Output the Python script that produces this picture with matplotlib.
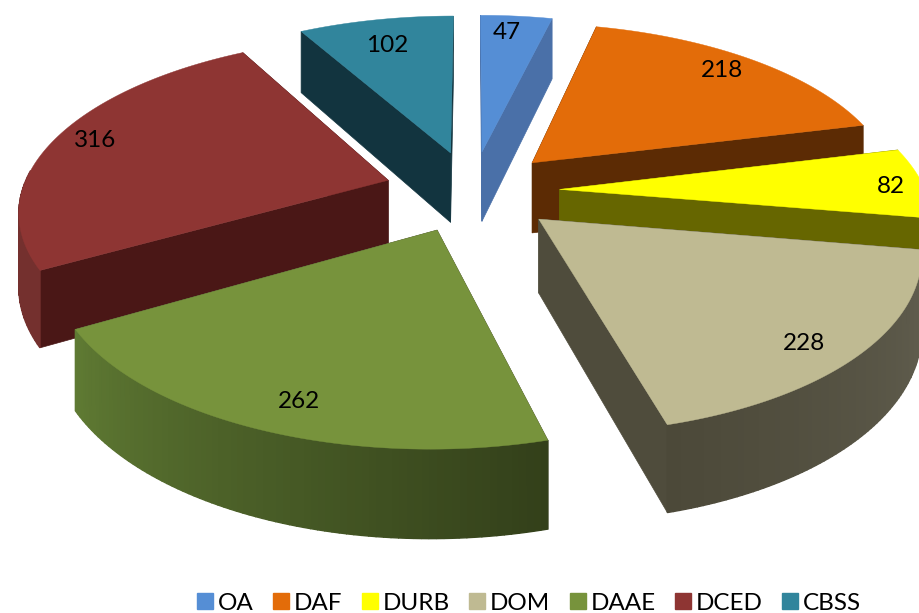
import numpy as np
import matplotlib
matplotlib.use("Agg")
import matplotlib.pyplot as plt
from matplotlib.patches import Rectangle

names = ["OA", "DAF", "DURB", "DOM", "DAAE", "DCED", "CBSS"]
values = [47, 218, 82, 228, 262, 316, 102]
top_cols = ["#558ED5", "#E36C09", "#FFFF00", "#BFBA92", "#77933C", "#8E3533", "#31859C"]
cut_cols = ["#4A70A8", "#5C2B04", "#666600", "#4F4C3C", "#4F4C3C", "#4A1716", "#12343F"]
rim_a = ["#4A70A8", "#5C2B04", "#666600", "#625F50", "#33401A", "#74302E", "#12343F"]
rim_b = ["#4A70A8", "#5C2B04", "#666600", "#4C4939", "#5F7A33", "#74302E", "#12343F"]
draw_order = [6, 0, 1, 2, 3, 5, 4]
label_r = [0.86, 0.87, 0.91, 0.875, 0.865, 0.885, 0.79]
label_da = [-1.2, -1.0, 1.3, 3.0, -2.0, 1.0, -0.7]

# fake 3d projection
cx, cy = 472, 191
R, Ry = 366, 170
k = 0.16
depth = 72
explode = 0.24


def proj(x, y, z=0.0):
    s = 1 / (1 - k * y)
    return cx + R * x * s, cy + (Ry * y + depth * z) * s


def mix(c1, c2, t):
    a = np.array(matplotlib.colors.to_rgb(c1))
    b = np.array(matplotlib.colors.to_rgb(c2))
    return a + (b - a) * t


fig = plt.figure(figsize=(9.2, 6.13), dpi=100)
ax = fig.add_axes([0, 0, 1, 1])
ax.set_xlim(0, 920)
ax.set_ylim(613, 0)
ax.axis("off")

edges = np.concatenate([[0], np.cumsum(values)]) / sum(values) * 2 * np.pi

for i in draw_order:
    a0, a1 = edges[i], edges[i + 1]
    mid = (a0 + a1) / 2
    ox, oy = explode * np.sin(mid), -explode * np.cos(mid)
    th = np.linspace(a0, a1, 80)
    xs = ox + np.sin(th)
    ys = oy - np.cos(th)

    # cut faces
    for a in (a0, a1):
        px, py = ox + np.sin(a), oy - np.cos(a)
        pts = [proj(ox, oy), proj(px, py), proj(px, py, 1), proj(ox, oy, 1)]
        ax.fill(*zip(*pts), color=cut_cols[i], lw=0.5, zorder=1)

    # outer wall, only the part facing us
    for j in range(len(th) - 1):
        if np.cos((th[j] + th[j + 1]) / 2) > 0.05:
            continue
        t = j / (len(th) - 2)
        pts = [proj(xs[j], ys[j]), proj(xs[j + 1], ys[j + 1]),
               proj(xs[j + 1], ys[j + 1], 1), proj(xs[j], ys[j], 1)]
        ax.fill(*zip(*pts), color=mix(rim_a[i], rim_b[i], t), lw=1, zorder=1)

    pts = [proj(ox, oy)] + [proj(x, y) for x, y in zip(xs, ys)]
    ax.fill(*zip(*pts), color=top_cols[i], lw=0.3, zorder=1)

    la = mid + np.radians(label_da[i])
    lx, ly = proj(ox + label_r[i] * np.sin(la), oy - label_r[i] * np.cos(la))
    ax.text(lx, ly, str(values[i]), ha="center", va="center", fontsize=17.5,
            family="Lato", color="black", zorder=3)

handles = [Rectangle((0, 0), 1, 1, color=c) for c in top_cols]
fig.legend(handles, names, loc="lower center", ncol=7, frameon=False,
           prop={"family": "Lato", "size": 17.5}, bbox_to_anchor=(0.575, -0.037),
           handlelength=0.66, handleheight=0.66, handletextpad=0.2, columnspacing=0.8)

fig.savefig("out.png", dpi=100)
